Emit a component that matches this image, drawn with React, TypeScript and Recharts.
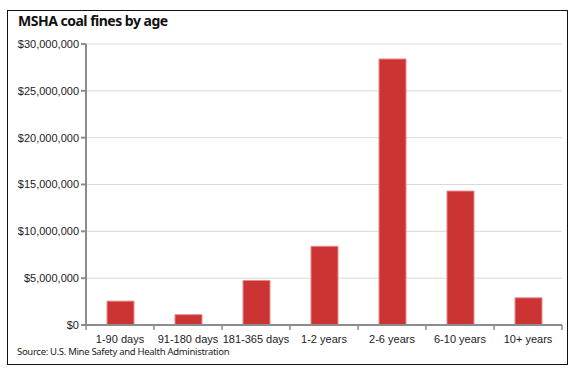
import { BarChart, Bar, XAxis, YAxis, CartesianGrid } from "recharts";

const ageGroups = [
  "1-90 days",
  "91-180 days",
  "181-365 days",
  "1-2 years",
  "2-6 years",
  "6-10 years",
  "10+ years",
];
const fines = [2550000, 1100000, 4750000, 8400000, 28400000, 14300000, 2900000];
const yTicks = [0, 5000000, 10000000, 15000000, 20000000, 25000000, 30000000];

const data = ageGroups.map((age, i) => ({ age, fines: fines[i] }));

const AXIS = "#8c8c8c";
const W = 575;
const H = 372;
const M = { top: 44, right: 13, bottom: 17, left: 8 };
const Y_W = 78;
const band = (W - M.left - M.right - Y_W) / ageGroups.length;

const money = (v: number) => "$" + v.toLocaleString("en-US");

function AgeTick(props: any) {
  const { x, y, payload, index } = props;
  return (
    <g>
      <line x1={x - band / 2} x2={x - band / 2} y1={y - 8} y2={y - 3} stroke={AXIS} strokeWidth={1.5} />
      {index === ageGroups.length - 1 && (
        <line x1={x + band / 2} x2={x + band / 2} y1={y - 8} y2={y - 3} stroke={AXIS} strokeWidth={1.5} />
      )}
      <text
        x={x}
        y={y + 10}
        textAnchor="middle"
        fontSize={11}
        fontFamily="'Liberation Sans', Arial, sans-serif"
        fill="#222"
      >
        {payload.value}
      </text>
    </g>
  );
}

export default function App() {
  return (
    <div style={{ position: "absolute", left: 0, top: 0, width: W, height: H, background: "#fff" }}>
      <div
        style={{
          position: "absolute",
          left: 7,
          top: 10,
          width: 559,
          height: 353,
          border: "1.5px solid #111",
        }}
      />
      <div
        style={{
          position: "absolute",
          left: 18,
          top: 11,
          fontFamily: "'Noto Sans', sans-serif",
          fontWeight: 700,
          fontSize: 14,
          color: "#111",
          letterSpacing: -0.5,
        }}
      >
        MSHA coal fines by age
      </div>
      <div
        style={{
          position: "absolute",
          left: 17,
          top: 345,
          fontFamily: "'Noto Sans', sans-serif",
          fontSize: 9.5,
          color: "#222",
          letterSpacing: -0.3,
        }}
      >
        Source: U.S. Mine Safety and Health Administration
      </div>
      <div style={{ position: "absolute", left: 0, top: 0 }}>
        <BarChart width={W} height={H} data={data} margin={M}>
          <CartesianGrid vertical={false} stroke="#d9d9d9" />
          <XAxis
            dataKey="age"
            height={30}
            stroke={AXIS}
            strokeWidth={2}
            tickLine={false}
            tick={<AgeTick />}
            interval={0}
          />
          <YAxis
            width={Y_W}
            domain={[0, 30000000]}
            ticks={yTicks}
            tickFormatter={money}
            stroke={AXIS}
            strokeWidth={2}
            tickSize={5}
            tick={{ fontSize: 11, fill: "#222", fontFamily: "'Liberation Sans', Arial, sans-serif" }}
          />
          <Bar
            dataKey="fines"
            fill="#cc3333"
            stroke="#e88a8a"
            strokeWidth={1}
            barSize={27}
            isAnimationActive={false}
          />
        </BarChart>
      </div>
    </div>
  );
}
